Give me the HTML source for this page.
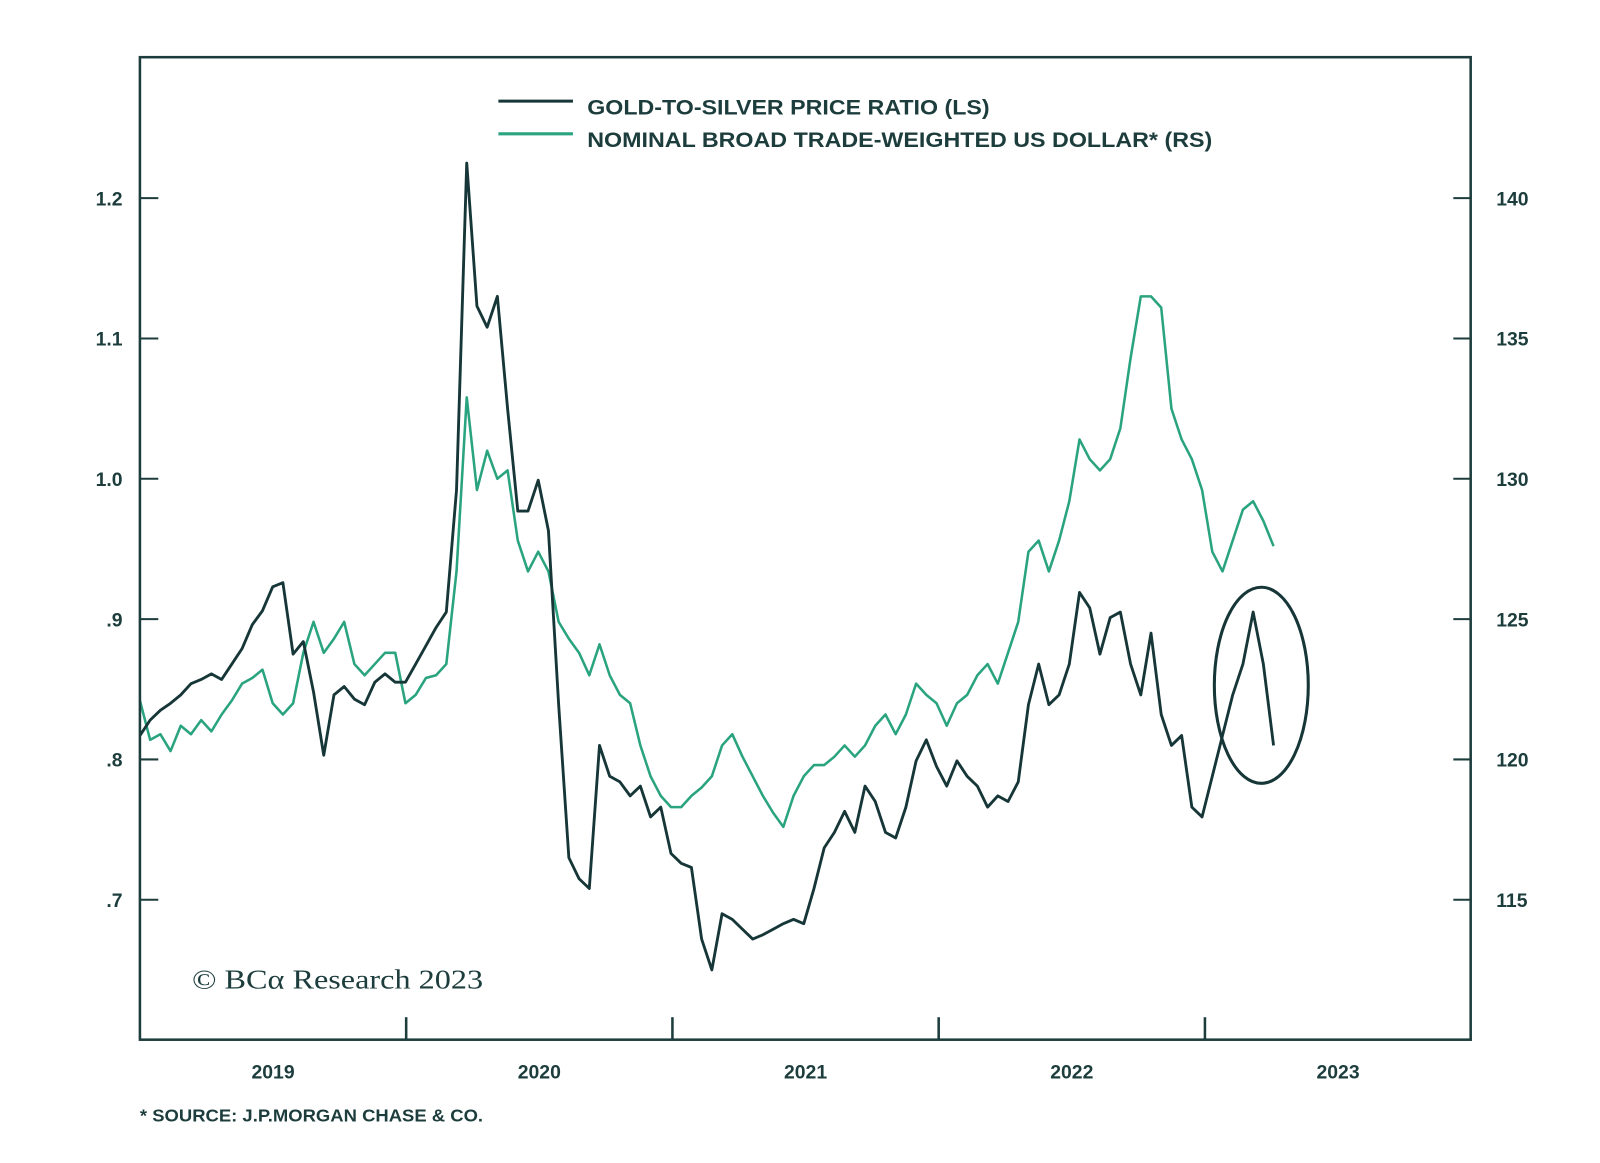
<!DOCTYPE html>
<html><head><meta charset="utf-8"><style>
html,body{margin:0;padding:0;background:#fff;}
svg{display:block;font-family:"Liberation Sans",sans-serif;}
</style></head><body>
<svg id="chart" width="1600" height="1163" viewBox="0 0 1600 1163" xmlns="http://www.w3.org/2000/svg">
<rect x="0" y="0" width="1600" height="1163" fill="#fff"/>
<g transform="scale(1.0213)">
<g id="grid"></g>
<g id="series"></g>
<rect x="137" y="56" width="1303" height="962" fill="none" stroke="#1d3d3d" stroke-width="2.5"/>
<g>
<line x1="488" y1="99" x2="561" y2="99" stroke="#163638" stroke-width="3"/>
<text x="575" y="112" font-size="21" font-weight="bold" fill="#1d3d3d" textLength="394" lengthAdjust="spacingAndGlyphs">GOLD-TO-SILVER PRICE RATIO (LS)</text>
<line x1="488" y1="131" x2="561" y2="131" stroke="#2aa37f" stroke-width="3"/>
<text x="575" y="144" font-size="21" font-weight="bold" fill="#1d3d3d" textLength="612" lengthAdjust="spacingAndGlyphs">NOMINAL BROAD TRADE-WEIGHTED US DOLLAR* (RS)</text>
</g>
<text x="188" y="968" font-family="Liberation Serif,serif" font-size="27" fill="#1d3d3d" textLength="285" lengthAdjust="spacingAndGlyphs">© BCα Research 2023</text>
<text x="137" y="1098" font-size="17" font-weight="bold" fill="#1d3d3d" textLength="336" lengthAdjust="spacingAndGlyphs">* SOURCE: J.P.MORGAN CHASE &amp; CO.</text>
<ellipse cx="1235" cy="671" rx="46" ry="96" fill="none" stroke="#163638" stroke-width="3"/>
</g>
</svg>
<script>
const startYear = 0;
const stepYears = 10 / 260.7;
const xTickLabels = ["2019","2020","2021","2022","2023"];
const leftTicks = [1.2,1.1,1.0,0.9,0.8,0.7];
const leftTickLabels = ["1.2","1.1","1.0",".9",".8",".7"];
const rightTicks = [140,135,130,125,120,115];
const goldSilver = [.817,.828,.835,.840,.846,.854,.857,.861,.857,.868,.879,.896,.906,.923,.926,.875,.884,.848,.803,.846,.852,.843,.839,.855,.861,.855,.855,.868,.881,.894,.905,.992,1.225,1.123,1.108,1.130,1.050,.977,.977,.999,.963,.839,.730,.715,.708,.810,.788,.784,.774,.781,.759,.766,.733,.726,.723,.672,.650,.690,.686,.679,.672,.675,.679,.683,.686,.683,.708,.737,.748,.763,.748,.781,.770,.748,.744,.766,.799,.814,.795,.781,.799,.788,.781,.766,.774,.770,.784,.839,.868,.839,.846,.868,.919,.908,.875,.901,.905,.868,.846,.890,.832,.810,.817,.766,.759,.788,.817,.846,.868,.905,.868,.810];
const dollar = [122.1,120.7,120.9,120.3,121.2,120.9,121.4,121.0,121.6,122.1,122.7,122.9,123.2,122.0,121.6,122.0,123.8,124.9,123.8,124.3,124.9,123.4,123.0,123.4,123.8,123.8,122.0,122.3,122.9,123.0,123.4,126.7,132.9,129.6,131.0,130.0,130.3,127.8,126.7,127.4,126.7,124.9,124.3,123.8,123.0,124.1,123.0,122.3,122.0,120.5,119.4,118.7,118.3,118.3,118.7,119.0,119.4,120.5,120.9,120.1,119.4,118.7,118.1,117.6,118.7,119.4,119.8,119.8,120.1,120.5,120.1,120.5,121.2,121.6,120.9,121.6,122.7,122.3,122.0,121.2,122.0,122.3,123.0,123.4,122.7,123.8,124.9,127.4,127.8,126.7,127.8,129.2,131.4,130.7,130.3,130.7,131.8,134.3,136.5,136.5,136.1,132.5,131.4,130.7,129.6,127.4,126.7,127.8,128.9,129.2,128.5,127.6];

const NS="http://www.w3.org/2000/svg";
const X0=137, YEARPX=260.7;
function xScale(t){return X0 + t*YEARPX;}
function yLeft(v){return 194 + (1.2 - v)*1374;}
function yRight(v){return 194 + (140 - v)*27.48;}
const grid=document.getElementById('grid');
const series=document.getElementById('series');
function mk(tag,attrs,parent){const e=document.createElementNS(NS,tag);for(const k in attrs)e.setAttribute(k,attrs[k]);parent.appendChild(e);return e;}

xTickLabels.forEach((lab,i)=>{
  if(i>0){
    const t=mk('line',{x1:xScale(i),x2:xScale(i),y1:996,y2:1018,stroke:'#1d3d3d','stroke-width':2.5},grid);
    
    
  }
  const tx=mk('text',{x:xScale(i+0.5),y:1056,'font-size':19,'font-weight':'bold',fill:'#1d3d3d','text-anchor':'middle'},grid);
  tx.textContent=lab;
  
  
});
leftTicks.forEach((v,i)=>{
  const y=yLeft(v);
  const t=mk('line',{x1:137,x2:155,y1:y,y2:y,stroke:'#1d3d3d','stroke-width':2},grid);
  
  
  const tx=mk('text',{x:120,y:y+7,'font-size':19,'font-weight':'bold',fill:'#1d3d3d','text-anchor':'end'},grid);
  tx.textContent=leftTickLabels[i];
  
  
});
rightTicks.forEach(v=>{
  const y=yRight(v);
  const t=mk('line',{x1:1423,x2:1440,y1:y,y2:y,stroke:'#1d3d3d','stroke-width':2},grid);
  
  
  const tx=mk('text',{x:1465,y:y+7,'font-size':19,'font-weight':'bold',fill:'#1d3d3d'},grid);
  tx.textContent=String(v);
  
  
});
function pathFor(arr,ys){return arr.map((v,i)=>(i?'L':'M')+xScale(startYear+i*stepYears).toFixed(1)+','+ys(v).toFixed(1)).join(' ');}
const g=mk('path',{d:pathFor(dollar,yRight),fill:'none',stroke:'#2aa37f','stroke-width':2.5,'stroke-linejoin':'round'},series);


const d=mk('path',{d:pathFor(goldSilver,yLeft),fill:'none',stroke:'#163638','stroke-width':2.8,'stroke-linejoin':'round'},series);


</script>
</body></html>
